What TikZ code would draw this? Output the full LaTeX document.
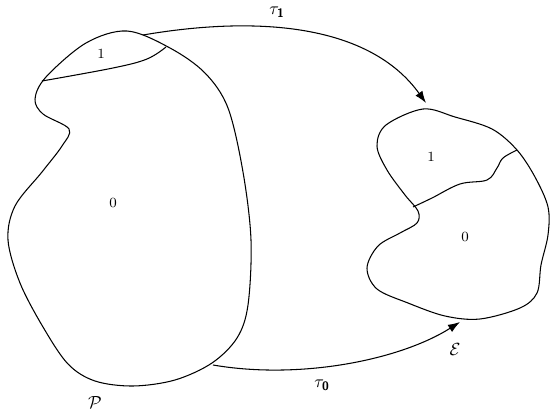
\documentclass[tikz,border=0pt]{standalone}
\usepackage{amsmath,amssymb}
\usepackage{tikz}
\usetikzlibrary{arrows.meta}
\tikzset{
  reg/.style={line width=0.6pt},
  cut/.style={line width=0.6pt},
  map/.style={line width=0.6pt,-{Latex[length=2.4mm,width=1.7mm]}},
  lab/.style={inner sep=1pt,font=\footnotesize},
  nm/.style={inner sep=1pt}
}
\newcommand{\tb}[1]{\tau_{\textsf{\bfseries #1}}}

\begin{document}
\begin{tikzpicture}[x=0.02cm,y=-0.02cm]
\useasboundingbox (0,0) rectangle (552,412);
% region P
\draw[reg] plot[smooth cycle,tension=0.55] coordinates {(127,31) (170,48) (205,73) (228,108) (243,172) (251,240) (248,305) (237,338) (212,363) (175,380) (133,386) (95,381) (68,364) (43,327) (20,283) (8,240) (15,206) (42,172) (62,146) (69,129) (43,114) (35,99) (46,77) (86,43)};
\draw[cut] plot[smooth,tension=0.6] coordinates {(42,81) (113,68) (147,59) (166,47)};
% region E
\draw[reg] plot[smooth cycle,tension=0.55] coordinates {(423,109) (455,117) (492,129) (517,150) (535,177) (548,207) (548,235) (541,265) (537,293) (520,308) (480,319) (445,316) (408,303) (377,289) (367,268) (378,246) (400,233) (417,223) (418,211) (405,195) (387,170) (377,146) (386,125)};
\draw[cut] plot[smooth,tension=0.6] coordinates {(413,207) (432,198) (460,184) (487,180) (497,168) (503,158) (517,150)};
% maps
\coordinate (t1s) at (143,35);
\coordinate (t1e) at (426,103);
\coordinate (t0s) at (213,365);
\coordinate (t0e) at (460,322);
\draw[map] (t1s) .. controls (260,15) and (370,25) .. (t1e);
\draw[map] (t0s) .. controls (300,380) and (400,360) .. (t0e);
\node[nm] (tau1) at (277,12) {$\tb{1}$};
\node[nm] (tau0) at (322,385) {$\tb{0}$};
\node[nm] (setP) at (95,402) {$\mathcal{P}$};
\node[nm] (setE) at (455,349) {$\mathcal{E}$};
\node[lab] (p1) at (101,54) {1};
\node[lab] (p0) at (113,203) {0};
\node[lab] (e1) at (431,157) {1};
\node[lab] (e0) at (465,237) {0};
\end{tikzpicture}
\end{document}
